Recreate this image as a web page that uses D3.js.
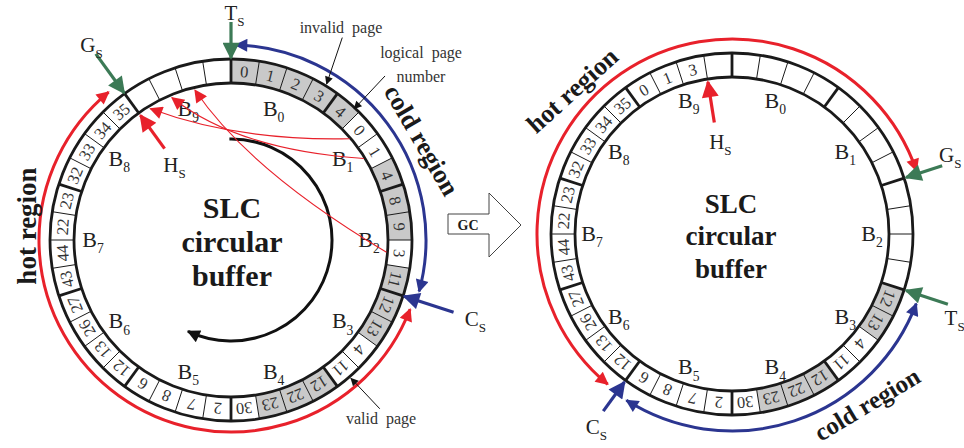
<!DOCTYPE html>
<html>
<head>
<meta charset="utf-8">
<script src="https://d3js.org/d3.v7.min.js"></script>
<style>
body { margin: 0; background: #fff; }
text { font-family: "Liberation Serif", "Times New Roman", serif; fill: #222; }
.bold { font-weight: bold; fill: #1a1a1a; }
</style>
</head>
<body>
<svg id="chart" width="964" height="448"></svg>
<script>
// ---- data: 10 blocks of 4 pages, clockwise from the top ----
const blockNames = ["0", "1", "2", "3", "4", "5", "6", "7", "8", "9"];

const leftPages = [
  [0, 1, 2, 3], [4, 0, 1, 4], [8, 9, 3, 11], [12, 13, 4, 11], [12, 22, 23, 30],
  [2, 7, 8, 6], [12, 13, 26, 27], [43, 44, 22, 23], [32, 33, 34, 35], ["", "", "", ""]
];
const leftInvalid = [
  [1, 1, 1, 1], [1, 0, 0, 1], [1, 1, 0, 1], [1, 1, 0, 0], [1, 1, 1, 0],
  [0, 0, 0, 0], [0, 0, 0, 0], [0, 0, 0, 0], [0, 0, 0, 0], [0, 0, 0, 0]
];
const rightPages = [
  ["", "", "", ""], ["", "", "", ""], ["", "", "", ""], [12, 13, 4, 11], [12, 22, 23, 30],
  [2, 7, 8, 6], [12, 13, 26, 27], [43, 44, 22, 23], [32, 33, 34, 35], [0, 1, 3, ""]
];
const rightInvalid = [
  [0, 0, 0, 0], [0, 0, 0, 0], [0, 0, 0, 0], [1, 1, 0, 0], [1, 1, 1, 0],
  [0, 0, 0, 0], [0, 0, 0, 0], [0, 0, 0, 0], [0, 0, 0, 0], [0, 0, 0, 0]
];

// pointers: name, page index on the ring
const pointerNames = ["T", "G", "H", "C"];
const leftPointerPos = [0, 36, 36, 12];
const rightPointerPos = [12, 8, 39, 24];

// valid pages moved by GC: source page -> destination page
const gcFrom = [5, 6, 10];
const gcTo = [36, 37, 38];

const nPages = 40;
const rIn = 157, rOut = 181, rMid = 169;
const RED = "#e8212b", BLUE = "#2b3590", GREEN = "#3c7a56", GRAY = "#c9c9c9";

const svg = d3.select("#chart");
const defs = svg.append("defs");

function marker(id, color, len, wid) {
  defs.append("marker")
    .attr("id", id)
    .attr("viewBox", "0 0 10 10")
    .attr("refX", 9).attr("refY", 5)
    .attr("markerUnits", "userSpaceOnUse")
    .attr("markerWidth", len).attr("markerHeight", wid)
    .attr("orient", "auto-start-reverse")
    .append("path").attr("d", "M0,0 L10,5 L0,10 z").attr("fill", color);
}
marker("redArc", RED, 17, 13);
marker("blueArc", BLUE, 17, 13);
marker("redBig", RED, 20, 17);
marker("greenBig", GREEN, 20, 17);
marker("blueBig", BLUE, 20, 17);
marker("redThin", RED, 16, 13);
marker("black", "#111", 12, 8);
marker("blackArc", "#111", 17, 13);

const ang = d3.scaleLinear().domain([0, nPages]).range([0, 2 * Math.PI]);
const deg = a => a * 180 / Math.PI;

function pt(c, r, i) {
  const a = ang(i);
  return [c.cx + r * Math.sin(a), c.cy - r * Math.cos(a)];
}

function arcPath(c, r, i0, i1) {
  const p = d3.path();
  const a0 = ang(i0) - Math.PI / 2, a1 = ang(i1) - Math.PI / 2;
  p.arc(c.cx, c.cy, r, a0, a1, a1 < a0);
  return p.toString();
}

function subLabel(g, x, y, main, sub, size) {
  const t = g.append("text")
    .attr("x", x).attr("y", y + size * 0.33)
    .attr("text-anchor", "middle")
    .attr("font-size", size);
  t.append("tspan").text(main);
  t.append("tspan").attr("font-size", size * 0.62).attr("dy", size * 0.28).text(sub);
  return t;
}

function drawBuffer(c) {
  const g = svg.append("g");
  const cells = c.pages.flatMap((blk, b) => blk.map((p, j) => ({
    b, j, i: b * 4 + j, page: p, invalid: c.invalid[b][j]
  })));
  const arc = d3.arc().innerRadius(rIn).outerRadius(rOut);

  g.selectAll("path.cell").data(cells).join("path")
    .attr("class", "cell")
    .attr("transform", `translate(${c.cx},${c.cy})`)
    .attr("d", d => arc({ startAngle: ang(d.i), endAngle: ang(d.i + 1) }))
    .attr("fill", d => d.invalid ? GRAY : "#fff");

  g.selectAll("line.sep").data(cells).join("line")
    .attr("class", "sep")
    .attr("x1", d => pt(c, rIn, d.i)[0]).attr("y1", d => pt(c, rIn, d.i)[1])
    .attr("x2", d => pt(c, rOut, d.i)[0]).attr("y2", d => pt(c, rOut, d.i)[1])
    .attr("stroke", "#1a1a1a")
    .attr("stroke-width", d => d.j === 0 ? 2.8 : 1);

  g.selectAll("circle.ring").data([rIn, rOut]).join("circle")
    .attr("class", "ring")
    .attr("cx", c.cx).attr("cy", c.cy).attr("r", d => d)
    .attr("fill", "none").attr("stroke", "#1a1a1a").attr("stroke-width", 2.8);

  g.selectAll("text.page").data(cells.filter(d => d.page !== "")).join("text")
    .attr("class", "page")
    .attr("transform", d => {
      const [x, y] = pt(c, rMid, d.i + 0.5);
      return `translate(${x},${y}) rotate(${deg(ang(d.i + 0.5))})`;
    })
    .attr("text-anchor", "middle").attr("dy", "0.35em")
    .attr("font-size", 16.5).style("fill", "#333")
    .text(d => d.page);

  blockNames.forEach((n, k) => {
    const [x, y] = pt(c, c.rBlock, k * 4 + 2);
    subLabel(g, x, y, "B", n, 22);
  });

  // centre title
  ["SLC", "circular", "buffer"].forEach((w, k) => {
    g.append("text").attr("class", "bold")
      .attr("x", c.cx + c.titleDx).attr("y", c.titleY[k])
      .attr("text-anchor", "middle").attr("font-size", c.titleSize)
      .text(w);
  });

  // region arcs
  c.regions.forEach(r => {
    g.append("path")
      .attr("d", arcPath(c, r.r, r.from, r.to))
      .attr("fill", "none").attr("stroke", r.color).attr("stroke-width", 3)
      .attr("marker-start", `url(#${r.marker})`)
      .attr("marker-end", `url(#${r.marker})`);
    g.append("text").attr("class", "bold")
      .attr("transform", `translate(${r.lx},${r.ly}) rotate(${r.rot})`)
      .attr("text-anchor", "middle").attr("dy", "0.35em")
      .attr("font-size", r.size).text(r.label);
  });

  // pointers
  pointerNames.forEach((n, k) => {
    const p = c.pointers[k];
    const pos = c.pointerPos[k];
    const [x1, y1] = pt(c, p.tail, pos);
    const [x2, y2] = pt(c, p.tip, pos);
    g.append("line")
      .attr("x1", x1).attr("y1", y1).attr("x2", x2).attr("y2", y2)
      .attr("stroke", p.color).attr("stroke-width", 3.2)
      .attr("marker-end", `url(#${p.marker})`);
    const [lx, ly] = pt(c, p.lr, p.li);
    subLabel(g, lx, ly, n, "S", 21);
  });
  return g;
}

const left = {
  cx: 231, cy: 240, rBlock: 138,
  pages: leftPages, invalid: leftInvalid,
  titleDx: 1, titleY: [218, 252, 286], titleSize: 30,
  pointerPos: leftPointerPos,
  pointers: [
    { color: GREEN, marker: "greenBig", tail: 218, tip: 182, lr: 227, li: 0.1 },
    { color: GREEN, marker: "greenBig", tail: 230, tip: 182, lr: 240, li: 36.05 },
    { color: RED, marker: "redBig", tail: 113, tip: 154, lr: 94, li: 35.9 },
    { color: BLUE, marker: "blueBig", tail: 234, tip: 182, lr: 257, li: 12.0 }
  ],
  regions: [
    { r: 192, from: 12.35, to: 35.6, color: RED, marker: "redArc", label: "hot region", lx: 27, ly: 226, rot: -90, size: 27 },
    { r: 195, from: 0.15, to: 11.7, color: BLUE, marker: "blueArc", label: "cold region", lx: 422, ly: 140, rot: 60, size: 26 }
  ]
};

const right = {
  cx: 732, cy: 234, rBlock: 140,
  pages: rightPages, invalid: rightInvalid,
  titleDx: -1, titleY: [213, 245, 278], titleSize: 27,
  pointerPos: rightPointerPos,
  pointers: [
    { color: GREEN, marker: "greenBig", tail: 227, tip: 183, lr: 238, li: 12.3 },
    { color: GREEN, marker: "greenBig", tail: 221, tip: 183, lr: 232, li: 7.8 },
    { color: RED, marker: "redBig", tail: 113, tip: 154, lr: 93, li: 39.2 },
    { color: BLUE, marker: "blueBig", tail: 219, tip: 183, lr: 236, li: 23.9 }
  ],
  regions: [
    { r: 195, from: 24.4, to: 47.9, color: RED, marker: "redArc", label: "hot region", lx: 572, ly: 90, rot: -42, size: 26 },
    { r: 197, from: 12.3, to: 23.6, color: BLUE, marker: "blueArc", label: "cold region", lx: 867, ly: 404, rot: -31, size: 25 }
  ]
};

const gl = drawBuffer(left);
drawBuffer(right);

// rotation arrow inside the left buffer
gl.append("path")
  .attr("d", arcPath(left, 101, -0.1, 22.8))
  .attr("fill", "none").attr("stroke", "#111").attr("stroke-width", 3)
  .attr("marker-end", "url(#blackArc)");

// GC copies of valid pages (thin red curves)
const gcCtrl = [[99, 0.45], [90, 0.55], [72, 1.65]];
gcFrom.forEach((s, k) => {
  const [x0, y0] = pt(left, rIn - 1, s + 0.5);
  const [x1, y1] = pt(left, rIn - 3, gcTo[k] + 0.5);
  const [qx, qy] = pt(left, gcCtrl[k][0], gcCtrl[k][1]);
  gl.append("path")
    .attr("d", `M${x0},${y0} Q${qx},${qy} ${x1},${y1}`)
    .attr("fill", "none").attr("stroke", RED).attr("stroke-width", 1.1)
    .attr("marker-end", "url(#redThin)");
});

// annotations
const notes = [
  { tail: [231, 3.2], tip: [183, 3.5], lines: ["invalid page"], x: 341, y: [33] },
  { tail: [225, 4.8], tip: [180, 4.8], lines: ["logical page", "number"], x: 421, y: [58, 82] },
  { tail: [225, 15.4], tip: [183, 15.45], lines: ["valid page"], x: 381, y: [424] }
];
notes.forEach(n => {
  const [x1, y1] = pt(left, n.tail[0], n.tail[1]);
  const [x2, y2] = pt(left, n.tip[0], n.tip[1]);
  gl.append("line").attr("x1", x1).attr("y1", y1).attr("x2", x2).attr("y2", y2)
    .attr("stroke", "#111").attr("stroke-width", 1)
    .attr("marker-end", "url(#black)");
  n.lines.forEach((s, k) => {
    gl.append("text").attr("x", n.x).attr("y", n.y[k])
      .attr("text-anchor", "middle").attr("font-size", 16)
      .attr("word-spacing", 4).style("fill", "#333").text(s);
  });
});

// GC block arrow between the two buffers
const gc = { x0: 448, bodyTop: 214, bodyBot: 234, headX: 489, headTop: 193, headBot: 257, tipX: 521 };
const gp = d3.path();
gp.moveTo(gc.x0, gc.bodyTop);
gp.lineTo(gc.headX, gc.bodyTop);
gp.lineTo(gc.headX, gc.headTop);
gp.lineTo(gc.tipX, (gc.headTop + gc.headBot) / 2);
gp.lineTo(gc.headX, gc.headBot);
gp.lineTo(gc.headX, gc.bodyBot);
gp.lineTo(gc.x0, gc.bodyBot);
gp.closePath();
svg.append("path").attr("d", gp.toString())
  .attr("fill", "#fff").attr("stroke", "#444").attr("stroke-width", 1);
svg.append("text").attr("class", "bold")
  .attr("x", 468).attr("y", 229.5).attr("text-anchor", "middle")
  .attr("font-size", 14).text("GC");
</script>
</body>
</html>
